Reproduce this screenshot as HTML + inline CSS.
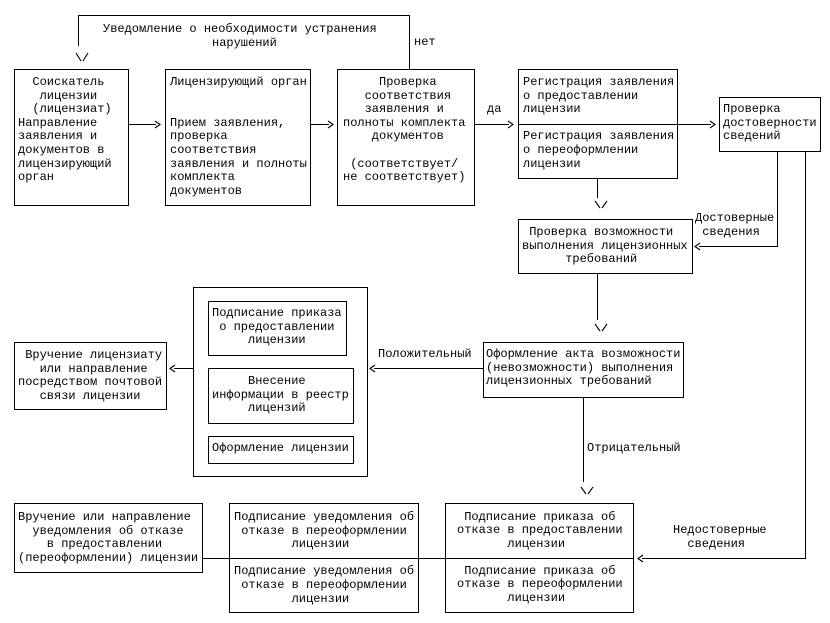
<!DOCTYPE html>
<html>
<head>
<meta charset="utf-8">
<style>
  html, body { margin: 0; padding: 0; background: #fff; }
  #page { position: relative; width: 830px; height: 623px; overflow: hidden; background: #fff; }
  svg { position: absolute; left: 0; top: 0; }
  .t {
    position: absolute;
    font-family: "Liberation Mono", "DejaVu Sans Mono", monospace;
    font-size: 12px;
    line-height: 13.6px;
    white-space: pre;
    color: #000;
  }
</style>
</head>
<body>
<div id="page">
<svg width="830" height="623" viewBox="0 0 830 623" xmlns="http://www.w3.org/2000/svg">
  <g fill="none" stroke="#000" stroke-width="1" shape-rendering="crispEdges">
    <!-- boxes -->
    <rect x="14.5" y="69.5" width="114" height="136"/>
    <rect x="165.5" y="69.5" width="145" height="136"/>
    <rect x="337.5" y="69.5" width="137" height="136"/>
    <rect x="518.5" y="69.5" width="159" height="109"/>
    <rect x="719.5" y="97.5" width="101" height="54"/>
    <rect x="518.5" y="219.5" width="174" height="54"/>
    <rect x="483.5" y="342.5" width="200" height="55"/>
    <rect x="193.5" y="287.5" width="174" height="189"/>
    <rect x="208.5" y="301.5" width="138" height="54"/>
    <rect x="208.5" y="368.5" width="145" height="55"/>
    <rect x="208.5" y="436.5" width="145" height="27"/>
    <rect x="14.5" y="342.5" width="152" height="67"/>
    <rect x="14.5" y="503.5" width="188" height="69"/>
    <rect x="229.5" y="503.5" width="189" height="109"/>
    <rect x="445.5" y="503.5" width="188" height="109"/>
    <!-- dividers / connectors -->
    <line x1="78" y1="15.5" x2="409" y2="15.5"/>
    <line x1="78.5" y1="15" x2="78.5" y2="46"/>
    <line x1="409.5" y1="15" x2="409.5" y2="69"/>
    <line x1="128" y1="124.5" x2="156" y2="124.5"/>
    <line x1="310" y1="124.5" x2="329" y2="124.5"/>
    <line x1="474" y1="124.5" x2="509" y2="124.5"/>
    <line x1="518" y1="124.5" x2="711" y2="124.5"/>
    <line x1="597.5" y1="178" x2="597.5" y2="198"/>
    <line x1="597.5" y1="273" x2="597.5" y2="320"/>
    <line x1="777.5" y1="151" x2="777.5" y2="246"/>
    <line x1="699" y1="246.5" x2="778" y2="246.5"/>
    <line x1="805.5" y1="151" x2="805.5" y2="558"/>
    <line x1="642" y1="558.5" x2="806" y2="558.5"/>
    <line x1="374" y1="368.5" x2="483" y2="368.5"/>
    <line x1="174" y1="368.5" x2="193" y2="368.5"/>
    <line x1="583.5" y1="397" x2="583.5" y2="482"/>
    <line x1="202" y1="558.5" x2="445" y2="558.5"/>
    <line x1="445" y1="558.5" x2="633" y2="558.5"/>
  </g>
  <g fill="none" stroke="#000" stroke-width="1.1">
    <!-- > arrowheads -->
    <polyline points="155,121 160,124.5 155,128"/>
    <polyline points="328,121 333,124.5 328,128"/>
    <polyline points="508,121 513,124.5 508,128"/>
    <polyline points="710,121 715,124.5 710,128"/>
    <!-- < arrowheads -->
    <polyline points="700,243 695,246.5 700,250"/>
    <polyline points="643,555 638,558.5 643,562"/>
    <polyline points="375,365 370,368.5 375,372"/>
    <polyline points="175,365 170,368.5 175,372"/>
    <!-- \/ arrowheads -->
    <line x1="76" y1="53" x2="81" y2="61"/>
    <line x1="83" y1="61" x2="88" y2="53"/>
    <line x1="595" y1="201" x2="600" y2="208"/>
    <line x1="602" y1="208" x2="607" y2="201"/>
    <line x1="595" y1="324" x2="600" y2="331"/>
    <line x1="602" y1="331" x2="607" y2="324"/>
    <line x1="581" y1="487" x2="586" y2="494"/>
    <line x1="588" y1="494" x2="593" y2="487"/>
  </g>
</svg>

<!-- top feedback label -->
<div class="t" style="left:103px;top:23px;">Уведомление о необходимости устранения</div>
<div class="t" style="left:212px;top:36.6px;">нарушений</div>
<div class="t" style="left:414px;top:36px;">нет</div>

<!-- box 1 -->
<div class="t" style="left:18px;top:76px;">  Соискатель
   лицензии
  (лицензиат)
Направление
заявления и
документов в
лицензирующий
орган</div>

<!-- box 2 -->
<div class="t" style="left:170px;top:76px;">Лицензирующий орган


Прием заявления,
проверка
соответствия
заявления и полноты
комплекта
документов</div>

<!-- box 3 -->
<div class="t" style="left:343px;top:76px;">     Проверка
   соответствия
   заявления и
полноты комплекта
    документов

 (соответствует/
не соответствует)</div>

<div class="t" style="left:487px;top:103px;">да</div>

<!-- box 4 -->
<div class="t" style="left:523px;top:76px;">Регистрация заявления
о предоставлении
лицензии

Регистрация заявления
о переоформлении
лицензии</div>

<!-- box 5 -->
<div class="t" style="left:723px;top:103px;">Проверка
достоверности
сведений</div>

<!-- box 6 -->
<div class="t" style="left:522px;top:226px;"> Проверка возможности
выполнения лицензионных
      требований</div>

<div class="t" style="left:695px;top:212px;">Достоверные
 сведения</div>

<!-- box 7 -->
<div class="t" style="left:486px;top:348px;">Оформление акта возможности
(невозможности) выполнения
лицензионных требований</div>

<div class="t" style="left:378px;top:348px;">Положительный</div>
<div class="t" style="left:587px;top:442px;">Отрицательный</div>

<!-- container inner boxes -->
<div class="t" style="left:212px;top:307px;">Подписание приказа
 о предоставлении
     лицензии</div>
<div class="t" style="left:212px;top:375px;">     Внесение
информации в реестр
     лицензий</div>
<div class="t" style="left:212px;top:442px;">Оформление лицензии</div>

<!-- left middle box -->
<div class="t" style="left:18px;top:349px;"> Вручение лицензиату
   или направление
посредством почтовой
   связи лицензии</div>

<!-- bottom left box -->
<div class="t" style="left:18px;top:511px;">Вручение или направление
  уведомления об отказе
    в предоставлении
(переоформлении) лицензии</div>

<!-- bottom middle box -->
<div class="t" style="left:234px;top:511px;">Подписание уведомления об
 отказе в переоформлении
        лицензии

Подписание уведомления об
 отказе в переоформлении
        лицензии</div>

<!-- bottom right box -->
<div class="t" style="left:457px;top:510.5px;"> Подписание приказа об
отказе в предоставлении
       лицензии

 Подписание приказа об
отказе в переоформлении
       лицензии</div>

<div class="t" style="left:673px;top:524px;">Недостоверные
  сведения</div>

</div>
</body>
</html>
